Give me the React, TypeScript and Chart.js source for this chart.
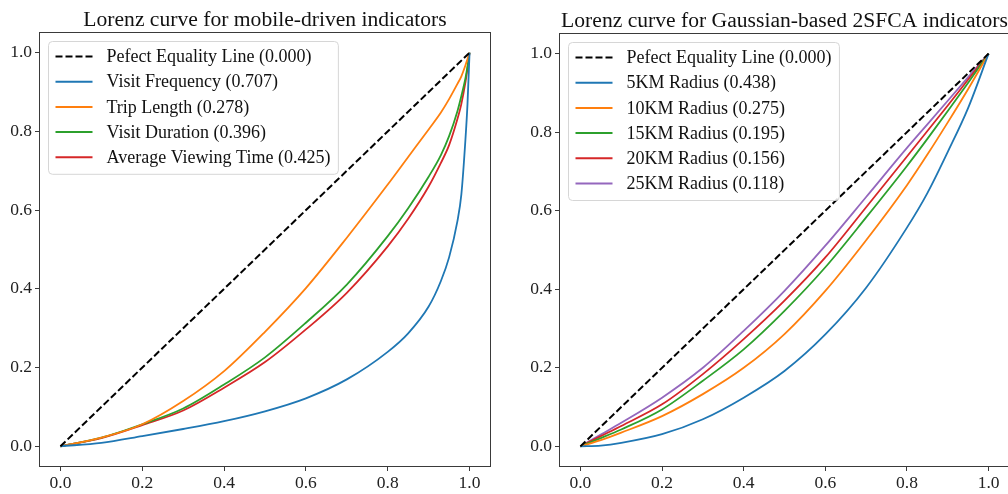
import React, { useEffect, useRef } from "react";
import { Chart, registerables } from "chart.js";

Chart.register(...registerables);

const FONT = '"Liberation Serif", "Times New Roman", Times, serif';

// ---------- data ----------
const xTicks = [0, 0.2, 0.4, 0.6, 0.8, 1.0];
const yTicks = [0, 0.2, 0.4, 0.6, 0.8, 1.0];

const leftTitle = "Lorenz curve for mobile-driven indicators";
const rightTitle = "Lorenz curve for Gaussian-based 2SFCA indicators";

const equalityLabel = "Pefect Equality Line (0.000)";
const equalityX = [0, 1];
const equalityY = [0, 1];

const mobileLabels = [
  "Visit Frequency (0.707)",
  "Trip Length (0.278)",
  "Visit Duration (0.396)",
  "Average Viewing Time (0.425)",
];
const mobileX = [0, 0.1, 0.2, 0.3, 0.4, 0.5, 0.6, 0.7, 0.8, 0.85, 0.9, 0.93, 0.95, 0.97, 0.98, 0.99, 0.995, 1];
const visitFrequency = [0, 0.009, 0.026, 0.044, 0.064, 0.089, 0.122, 0.17, 0.24, 0.287, 0.355, 0.42, 0.48, 0.57, 0.64, 0.78, 0.87, 1];
const tripLength = [0, 0.022, 0.056, 0.115, 0.191, 0.291, 0.402, 0.53, 0.665, 0.735, 0.805, 0.848, 0.882, 0.92, 0.94, 0.968, 0.984, 1];
const visitDuration = [0, 0.022, 0.056, 0.096, 0.157, 0.226, 0.314, 0.411, 0.534, 0.605, 0.685, 0.74, 0.788, 0.85, 0.89, 0.935, 0.965, 1];
const avgViewingTime = [0, 0.021, 0.054, 0.091, 0.149, 0.214, 0.297, 0.39, 0.508, 0.578, 0.66, 0.72, 0.765, 0.83, 0.87, 0.925, 0.96, 1];

const gaussLabels = [
  "5KM Radius (0.438)",
  "10KM Radius (0.275)",
  "15KM Radius (0.195)",
  "20KM Radius (0.156)",
  "25KM Radius (0.118)",
];
const gaussX = [0, 0.05, 0.1, 0.2, 0.3, 0.4, 0.5, 0.6, 0.7, 0.8, 0.85, 0.9, 0.95, 1];
const radius5 = [0, 0.002, 0.009, 0.031, 0.069, 0.124, 0.192, 0.285, 0.404, 0.557, 0.645, 0.75, 0.862, 1];
const radius10 = [0, 0.016, 0.035, 0.077, 0.133, 0.2, 0.286, 0.396, 0.525, 0.665, 0.743, 0.825, 0.91, 1];
const radius15 = [0, 0.021, 0.043, 0.094, 0.167, 0.247, 0.345, 0.456, 0.583, 0.714, 0.783, 0.854, 0.926, 1];
const radius20 = [0, 0.026, 0.052, 0.107, 0.184, 0.273, 0.371, 0.481, 0.609, 0.738, 0.803, 0.868, 0.934, 1];
const radius25 = [0, 0.03, 0.06, 0.124, 0.2, 0.294, 0.396, 0.511, 0.635, 0.76, 0.82, 0.88, 0.94, 1];

const tab10 = ["#1f77b4", "#ff7f0e", "#2ca02c", "#d62728", "#9467bd"];

// ---------- panel ----------
type PanelProps = {
  title: string;
  xs: number[];
  ys: number[][];
  labels: string[];
  left: number;
  width: number;
  padTop: number;
  padRight: number;
  yAxisWidth: number;
  xAxisHeight: number;
  titleBaseline: number;
};

function LorenzPanel(p: PanelProps) {
  const ref = useRef<HTMLCanvasElement>(null);

  useEffect(() => {
    if (!ref.current) return;
    const legendItems = [
      { label: equalityLabel, color: "#000000", dash: [7, 3] as number[] },
      ...p.labels.map((l, k) => ({ label: l, color: tab10[k], dash: [] as number[] })),
    ];

    const datasets: any[] = [
      {
        label: equalityLabel,
        data: equalityX.map((x, i) => ({ x, y: equalityY[i] })),
        borderColor: "#000000",
        borderDash: [7, 3],
        borderWidth: 2,
        pointRadius: 0,
        showLine: true,
        fill: false,
      },
      ...p.ys.map((ys, k) => ({
        label: p.labels[k],
        data: p.xs.map((x, i) => ({ x, y: ys[i] })),
        borderColor: tab10[k],
        borderWidth: 1.8,
        pointRadius: 0,
        showLine: true,
        fill: false,
        cubicInterpolationMode: "monotone",
      })),
    ];

    const overlay = {
      id: "overlay",
      afterDraw(chart: any) {
        const ctx = chart.ctx as CanvasRenderingContext2D;
        const a = chart.chartArea;
        ctx.save();
        // frame
        ctx.strokeStyle = "#3a3a3a";
        ctx.lineWidth = 1;
        ctx.strokeRect(a.left - 0.5, a.top - 0.5, a.right - a.left + 1, a.bottom - a.top + 1);
        // title
        ctx.fillStyle = "#111111";
        ctx.font = `21.6px ${FONT}`;
        ctx.textAlign = "center";
        ctx.textBaseline = "alphabetic";
        ctx.fillText(p.title, (a.left + a.right) / 2, p.titleBaseline);
        // legend
        ctx.font = `18px ${FONT}`;
        const textW = Math.max(...legendItems.map((it) => ctx.measureText(it.label).width));
        const bx = a.left + 8.5;
        const by = a.top + 8.5;
        const rowH = 25.2;
        const bw = 58 + textW + 8;
        const bh = 15 + rowH * (legendItems.length - 1) + 17;
        ctx.beginPath();
        if ((ctx as any).roundRect) (ctx as any).roundRect(bx, by, bw, bh, 4);
        else ctx.rect(bx, by, bw, bh);
        ctx.fillStyle = "rgba(255,255,255,0.85)";
        ctx.fill();
        ctx.strokeStyle = "#d6d6d6";
        ctx.lineWidth = 1;
        ctx.stroke();
        legendItems.forEach((it, i) => {
          const cy = by + 15 + i * rowH;
          ctx.beginPath();
          ctx.setLineDash(it.dash);
          ctx.strokeStyle = it.color;
          ctx.lineWidth = 2;
          ctx.moveTo(bx + 7, cy);
          ctx.lineTo(bx + 44, cy);
          ctx.stroke();
          ctx.setLineDash([]);
          ctx.fillStyle = "#111111";
          ctx.textAlign = "left";
          ctx.textBaseline = "middle";
          ctx.fillText(it.label, bx + 58, cy + 1);
        });
        ctx.restore();
      },
    };

    const tickFont = { family: FONT, size: 17.5 };
    const chart = new Chart(ref.current, {
      type: "scatter",
      data: { datasets },
      options: {
        animation: false,
        responsive: false,
        devicePixelRatio: 1,
        layout: { padding: { top: p.padTop, right: p.padRight, left: 0, bottom: 0 } },
        plugins: { legend: { display: false }, title: { display: false }, tooltip: { enabled: false } },
        scales: {
          x: {
            type: "linear",
            min: -0.05,
            max: 1.05,
            afterBuildTicks: (s: any) => {
              s.ticks = xTicks.map((v) => ({ value: v }));
            },
            afterFit: (s: any) => {
              s.height = p.xAxisHeight;
            },
            grid: {
              display: true,
              drawOnChartArea: false,
              drawTicks: true,
              tickLength: 5,
              color: "#3a3a3a",
              tickColor: "#3a3a3a",
            },
            border: { display: false },
            ticks: {
              font: tickFont,
              color: "#222222",
              padding: 2,
              maxRotation: 0,
              autoSkip: false,
              callback: (v: any) => Number(v).toFixed(1),
            },
          },
          y: {
            type: "linear",
            min: -0.05,
            max: 1.05,
            afterBuildTicks: (s: any) => {
              s.ticks = yTicks.map((v) => ({ value: v }));
            },
            afterFit: (s: any) => {
              s.width = p.yAxisWidth;
            },
            grid: {
              display: true,
              drawOnChartArea: false,
              drawTicks: true,
              tickLength: 5,
              color: "#3a3a3a",
              tickColor: "#3a3a3a",
            },
            border: { display: false },
            ticks: {
              font: tickFont,
              color: "#222222",
              padding: 3,
              autoSkip: false,
              callback: (v: any) => Number(v).toFixed(1),
            },
          },
        },
      } as any,
      plugins: [overlay],
    });
    return () => chart.destroy();
  }, []);

  return (
    <div style={{ position: "absolute", left: p.left, top: 0, width: p.width, height: 494 }}>
      <canvas ref={ref} width={p.width} height={494} style={{ display: "block" }} />
    </div>
  );
}

export default function App() {
  return (
    <div
      style={{
        position: "absolute",
        left: 0,
        top: 0,
        width: 1008,
        height: 494,
        overflow: "hidden",
        background: "#ffffff",
      }}
    >
      <LorenzPanel
        title={leftTitle}
        xs={mobileX}
        ys={[visitFrequency, tripLength, visitDuration, avgViewingTime]}
        labels={mobileLabels}
        left={0}
        width={504}
        padTop={33}
        padRight={14}
        yAxisWidth={40}
        xAxisHeight={28}
        titleBaseline={26}
      />
      <LorenzPanel
        title={rightTitle}
        xs={gaussX}
        ys={[radius5, radius10, radius15, radius20, radius25]}
        labels={gaussLabels}
        left={504}
        width={506}
        padTop={34}
        padRight={1}
        yAxisWidth={56}
        xAxisHeight={28}
        titleBaseline={27}
      />
    </div>
  );
}
